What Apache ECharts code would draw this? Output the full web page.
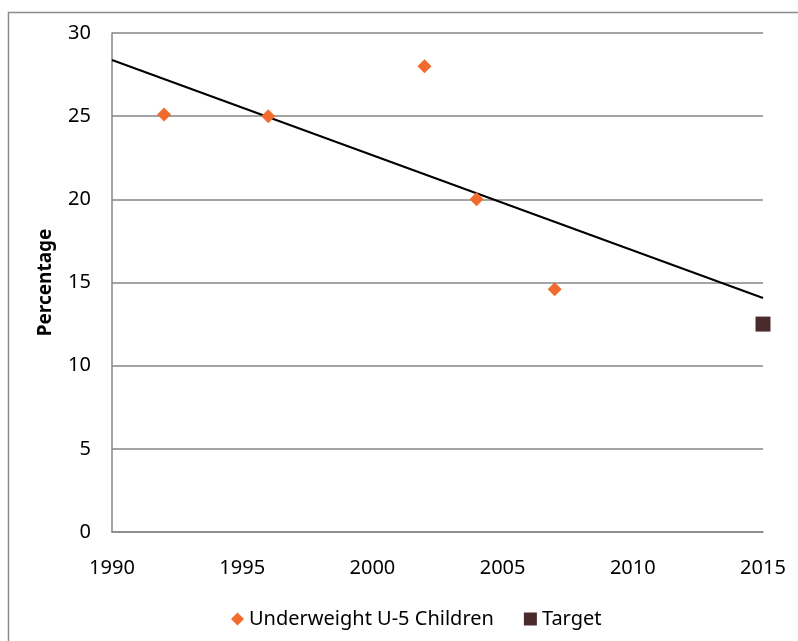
<!DOCTYPE html>
<html>
<head>
<meta charset="utf-8">
<script src="https://cdn.jsdelivr.net/npm/echarts@6/dist/echarts.min.js"></script>
<style>html,body{margin:0;padding:0;background:#fff}#c{width:798px;height:641px}</style>
</head>
<body>
<div id="c"></div>
<script>
var years = [1992, 1996, 2002, 2004, 2007];
var underweight = [25.1, 25.0, 28.0, 20.0, 14.6];
var targetYear = [2015];
var targetValue = [12.5];
var yTicks = [0, 5, 10, 15, 20, 25, 30];
var xTicks = [1990, 1995, 2000, 2005, 2010, 2015];

// linear least-squares trendline through the observed points
var n = years.length, mx = 0, my = 0;
for (var i = 0; i < n; i++) { mx += years[i]; my += underweight[i]; }
mx /= n; my /= n;
var sxy = 0, sxx = 0;
for (var i = 0; i < n; i++) { sxy += (years[i]-mx)*(underweight[i]-my); sxx += (years[i]-mx)*(years[i]-mx); }
var slope = sxy / sxx, icpt = my - slope * mx;
var trend = [[xTicks[0], icpt + slope * xTicks[0]], [xTicks[xTicks.length-1], icpt + slope * xTicks[xTicks.length-1]]];

var font = '"Noto Sans", sans-serif';
var chart = echarts.init(document.getElementById('c'));
chart.setOption({
  animation: false,
  graphic: [{
    type: 'rect', shape: { x: 8.5, y: 12.5, width: 800, height: 640 },
    style: { fill: 'none', stroke: '#8c8c8c', lineWidth: 1.5 }, silent: true
  }],
  grid: { left: 112, top: 33, width: 651, height: 499, containLabel: false },
  legend: {
    top: 604, left: 226, itemGap: 30, itemWidth: 13, itemHeight: 13,
    textStyle: { fontFamily: font, fontSize: 20, color: '#000' },
    data: [
      { name: 'Underweight U-5 Children', icon: 'diamond', itemStyle: { color: '#f26b2e' } },
      { name: 'Target', icon: 'rect', itemStyle: { color: '#4a2b2b' } }
    ]
  },
  xAxis: {
    type: 'value', min: 1990, max: 2015, interval: 5,
    axisLine: { show: true, lineStyle: { color: '#868686', width: 1.5 } },
    axisTick: { show: false },
    splitLine: { show: false },
    axisLabel: { fontFamily: font, fontSize: 20, color: '#000', margin: 26, formatter: function(v){ return String(v); } }
  },
  yAxis: {
    type: 'value', min: 0, max: 30, interval: 5,
    name: 'Percentage', nameLocation: 'middle', nameGap: 57, nameRotate: 90,
    nameTextStyle: { fontFamily: font, fontSize: 19, fontWeight: 'bold', color: '#000' },
    axisLine: { show: true, lineStyle: { color: '#868686', width: 1.5 } },
    axisTick: { show: false },
    splitLine: { show: true, lineStyle: { color: '#868686', width: 1.5 } },
    axisLabel: { fontFamily: font, fontSize: 20, color: '#000', margin: 21 }
  },
  series: [
    {
      name: 'Trend', type: 'line', data: trend, symbol: 'none',
      lineStyle: { color: '#000', width: 2 }, z: 3, silent: true
    },
    {
      name: 'Underweight U-5 Children', type: 'scatter', symbol: 'diamond', symbolSize: 14,
      itemStyle: { color: '#f26b2e', opacity: 1 },
      data: years.map(function(y, i){ return [y, underweight[i]]; }), z: 4
    },
    {
      name: 'Target', type: 'scatter', symbol: 'rect', symbolSize: 15,
      itemStyle: { color: '#4a2b2b', opacity: 1 },
      data: targetYear.map(function(y, i){ return [y, targetValue[i]]; }), z: 4
    }
  ]
});
</script>
</body>
</html>
